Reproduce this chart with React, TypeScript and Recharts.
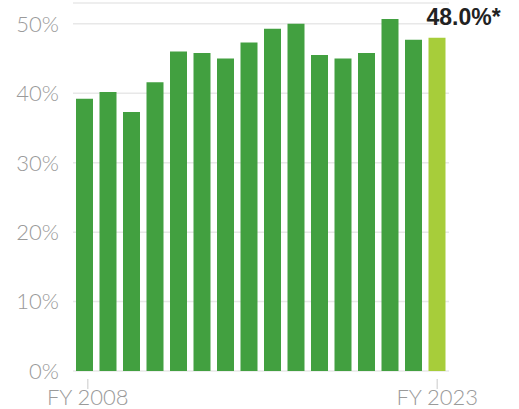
import { BarChart, Bar, XAxis, YAxis, CartesianGrid, Cell } from "recharts";

const years = [
  "FY 2008", "FY 2009", "FY 2010", "FY 2011", "FY 2012", "FY 2013", "FY 2014", "FY 2015",
  "FY 2016", "FY 2017", "FY 2018", "FY 2019", "FY 2020", "FY 2021", "FY 2022", "FY 2023",
];
const shares = [39.2, 40.2, 37.3, 41.6, 46.0, 45.8, 45.0, 47.3, 49.3, 50.0, 45.5, 45.0, 45.8, 50.7, 47.7, 48.0];
const yTicks = [0, 10, 20, 30, 40, 50];
const shownYears = ["FY 2008", "FY 2023"];
const callout = "48.0%*";

const GREEN = "#42a040";
const LIME = "#a7cd3a";
const GREY = "#9a9a9a";
const LIGHT_FONT = "Lato, 'Open Sans', sans-serif";

const data = years.map((year, i) => ({ year, share: shares[i] }));

function YearTick({ x, y, payload, index }: any) {
  if (!shownYears.includes(payload.value)) return null;
  const nudge = index === 0 ? 3 : 0;
  return (
    <g transform={`translate(${x + nudge},${y})`}>
      <line x1={0} x2={0} y1={0} y2={10} stroke="#dcdcdc" strokeWidth={1.5} />
      <text x={0} y={26} textAnchor="middle" fill={GREY} fontSize={22} fontWeight={300} fontFamily={LIGHT_FONT}>
        {payload.value}
      </text>
    </g>
  );
}

function CalloutLabel({ x, index }: any) {
  if (index !== shares.length - 1) return null;
  return (
    <text x={x - 2} y={25} fill="#222" fontSize={23} fontWeight={700} fontFamily="'Liberation Sans', Arial, sans-serif">
      {callout}
    </text>
  );
}

export default function App() {
  return (
    <div style={{ position: "absolute", left: 0, top: 0, background: "#fff" }}>
      <BarChart width={519} height={409} data={data} margin={{ top: 3, right: 70, left: 0, bottom: 0 }}>
        <CartesianGrid stroke="#e8e8e8" strokeWidth={1.5} vertical={false} />
        <XAxis
          dataKey="year"
          interval={0}
          axisLine={false}
          tickLine={false}
          height={38}
          tick={<YearTick />}
        />
        <YAxis
          domain={[0, 53]}
          ticks={yTicks}
          width={73}
          axisLine={false}
          tickLine={false}
          tickSize={0}
          tickMargin={14}
          tickFormatter={(v) => `${v}%`}
          tick={{ fill: GREY, fontSize: 22, fontWeight: 300, fontFamily: LIGHT_FONT }}
        />
        <Bar dataKey="share" barSize={17} isAnimationActive={false} label={<CalloutLabel />}>
          {data.map((_, i) => (
            <Cell key={i} fill={i === data.length - 1 ? LIME : GREEN} />
          ))}
        </Bar>
      </BarChart>
    </div>
  );
}
